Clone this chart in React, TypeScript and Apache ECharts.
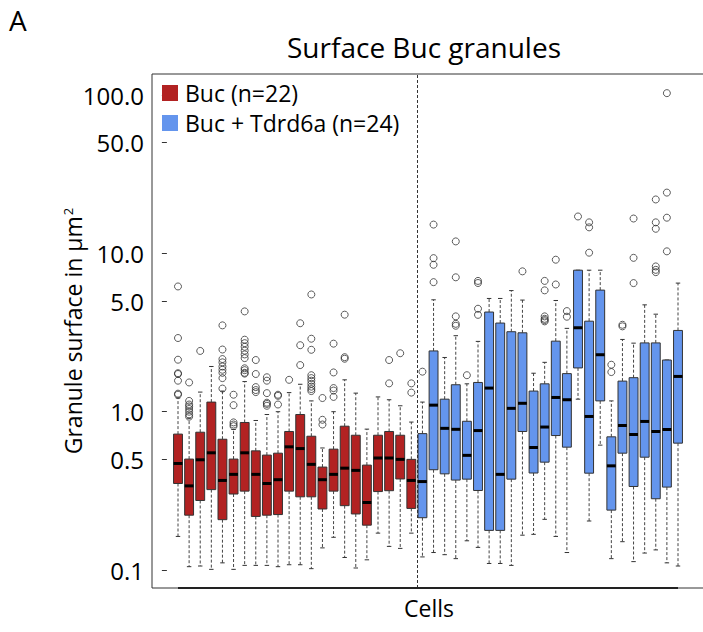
import React, { useEffect, useRef } from 'react';
import * as echarts from 'echarts';

// ---- Data (granule surface in µm²) ----
// Buc (n=22) cells: whisker low, Q1, median, Q3, whisker high
const bucLow = [0.163, 0.105, 0.106, 0.101, 0.111, 0.101, 0.107, 0.107, 0.107, 0.105, 0.108, 0.108, 0.102, 0.138, 0.161, 0.12, 0.103, 0.116, 0.171, 0.141, 0.137, 0.171];
const bucQ1 = [0.352, 0.222, 0.275, 0.322, 0.208, 0.302, 0.315, 0.218, 0.222, 0.224, 0.315, 0.29, 0.29, 0.243, 0.315, 0.255, 0.226, 0.192, 0.313, 0.317, 0.376, 0.245];
const bucMed = [0.471, 0.34, 0.497, 0.55, 0.368, 0.402, 0.55, 0.402, 0.352, 0.372, 0.6, 0.585, 0.465, 0.372, 0.402, 0.44, 0.426, 0.267, 0.51, 0.51, 0.5, 0.368];
const bucQ3 = [0.722, 0.502, 0.742, 1.15, 0.67, 0.502, 0.855, 0.566, 0.532, 0.547, 0.75, 0.96, 0.7, 0.447, 0.58, 0.81, 0.71, 0.46, 0.71, 0.75, 0.71, 0.5];
const bucHigh = [1.22, 0.91, 1.33, 1.93, 1.35, 0.773, 1.55, 0.88, 0.96, 1.0, 1.32, 1.49, 1.17, 0.59, 1.0, 1.59, 1.31, 0.776, 1.24, 1.19, 1.09, 0.86];
const bucOutliers = [
  [6.18, 2.92, 2.13, 1.75, 1.73, 1.57, 1.3, 1.28],
  [1.53, 1.17, 1.11, 1.08, 1.04, 1.0, 0.96, 0.93],
  [2.42],
  [],
  [3.51, 2.47, 2.15, 2.05, 1.93, 1.84, 1.76, 1.63, 1.4],
  [1.28, 1.1, 0.856, 0.83, 0.81],
  [4.3, 2.85, 2.71, 2.57, 2.43, 2.3, 2.18, 1.88, 1.83, 1.76, 1.74],
  [2.12, 1.73, 1.43, 1.37, 1.33],
  [1.65, 1.57, 1.31, 1.14, 1.12, 1.09],
  [1.28, 1.26, 1.11],
  [1.59],
  [3.62, 2.63, 1.97],
  [5.5, 2.89, 2.46, 1.7, 1.63, 1.57, 1.5, 1.44, 1.39, 1.35],
  [1.22, 0.889, 0.83],
  [2.69, 1.77, 1.41, 1.36, 1.24],
  [4.1, 2.21, 2.16],
  [],
  [],
  [],
  [2.12, 1.51],
  [2.34],
  [1.51, 1.32],
];

// Buc + Tdrd6a (n=24) cells
const tdrdLow = [0.121, 0.129, 0.125, 0.118, 0.153, 0.139, 0.11, 0.11, 0.107, 0.166, 0.168, 0.209, 0.163, 0.129, 1.2, 0.204, 0.615, 0.118, 0.151, 0.113, 0.128, 0.134, 0.111, 0.106];
const tdrdQ1 = [0.214, 0.43, 0.405, 0.37, 0.375, 0.318, 0.178, 0.178, 0.375, 0.75, 0.41, 0.48, 0.707, 0.597, 1.89, 0.409, 1.17, 0.239, 0.547, 0.337, 0.516, 0.282, 0.334, 0.633];
const tdrdMed = [0.362, 1.1, 0.785, 0.774, 0.53, 0.76, 1.41, 0.402, 1.05, 1.13, 0.594, 0.8, 1.23, 1.19, 3.39, 0.933, 2.29, 0.455, 0.818, 0.718, 0.868, 0.75, 0.772, 1.67];
const tdrdQ3 = [0.727, 2.42, 1.2, 1.48, 0.87, 1.53, 4.26, 3.63, 3.2, 3.15, 1.35, 1.5, 2.79, 1.74, 7.83, 3.73, 5.86, 0.694, 1.56, 1.64, 2.72, 2.72, 2.12, 3.26];
const tdrdHigh = [1.15, 5.09, 2.2, 3.02, 1.5, 2.78, 5.19, 5.19, 5.82, 5.07, 1.75, 2.05, 5.04, 3.36, 7.83, 7.83, 7.83, 1.17, 2.86, 2.71, 4.73, 4.13, 2.12, 6.49];
const tdrdOutliers = [
  [1.79],
  [15.2, 9.33, 8.47, 6.58],
  [],
  [11.9, 7.06, 4.0, 3.59, 3.49],
  [1.7],
  [6.7, 6.5, 4.47, 4.09],
  [],
  [],
  [],
  [7.7],
  [],
  [6.7, 5.84, 4.0, 3.86, 3.79, 3.72],
  [9.12, 6.36],
  [4.32, 3.98],
  [17.1],
  [15.7, 14.6, 10.1],
  [],
  [1.98, 1.78],
  [3.54, 3.46],
  [16.6, 9.37, 6.49],
  [],
  [21.9, 15.7, 14.3, 8.27, 7.87, 7.61],
  [102.8, 24.2, 16.8, 10.3],
  [],
];

const yTickLabels = [0.1, 0.5, 1, 5, 10, 50, 100];
const yRange = [0.077, 135.8];

const seriesNames = ['Buc (n=22)', 'Buc + Tdrd6a (n=24)'];
const seriesColors = ['#B22222', '#6495ED'];

const FONT = "'Open Sans', 'Noto Sans', 'DejaVu Sans', sans-serif";
const lg = (v: number) => Math.log10(v);

function buildBoxes(low: number[], q1: number[], med: number[], q3: number[], high: number[], start: number) {
  return low.map((_, i) => [start + i, lg(low[i]), lg(q1[i]), lg(med[i]), lg(q3[i]), lg(high[i])]);
}
function buildOutliers(outs: number[][], start: number) {
  const res: number[][] = [];
  outs.forEach((arr, i) => arr.forEach((v) => res.push([start + i, lg(v)])));
  return res;
}

function makeRenderItem(fill: string) {
  return (params: any, api: any) => {
    const x = api.value(0);
    const pLow = api.coord([x, api.value(1)]);
    const pQ1 = api.coord([x, api.value(2)]);
    const pMed = api.coord([x, api.value(3)]);
    const pQ3 = api.coord([x, api.value(4)]);
    const pHigh = api.coord([x, api.value(5)]);
    const bw = api.size([0.8, 0])[0];
    const cx = pMed[0];
    const cap = bw / 4;
    const whisker = { stroke: '#444', lineWidth: 1, lineDash: [3, 2] };
    const capStyle = { stroke: '#333', lineWidth: 1 };
    return {
      type: 'group',
      children: [
        { type: 'line', shape: { x1: cx, y1: pQ3[1], x2: cx, y2: pHigh[1] }, style: whisker },
        { type: 'line', shape: { x1: cx, y1: pQ1[1], x2: cx, y2: pLow[1] }, style: whisker },
        { type: 'line', shape: { x1: cx - cap, y1: pHigh[1], x2: cx + cap, y2: pHigh[1] }, style: capStyle },
        { type: 'line', shape: { x1: cx - cap, y1: pLow[1], x2: cx + cap, y2: pLow[1] }, style: capStyle },
        {
          type: 'rect',
          shape: { x: cx - bw / 2, y: pQ3[1], width: bw, height: pQ1[1] - pQ3[1] },
          style: { fill, stroke: '#333', lineWidth: 1 },
        },
        { type: 'line', shape: { x1: cx - bw / 2, y1: pMed[1], x2: cx + bw / 2, y2: pMed[1] }, style: { stroke: '#000', lineWidth: 3 } },
      ],
    };
  };
}

export default function App() {
  const ref = useRef<HTMLDivElement>(null);
  useEffect(() => {
    if (!ref.current) return;
    const chart = echarts.init(ref.current, undefined, { renderer: 'svg' });
    const yMin = lg(yRange[0]);
    const yMax = lg(yRange[1]);
    const tickVals = yTickLabels.map(lg);
    const nBuc = bucLow.length;
    const nTd = tdrdLow.length;
    const total = nBuc + nTd;
    const outlierData = [...buildOutliers(bucOutliers, 1), ...buildOutliers(tdrdOutliers, nBuc + 1)];

    chart.setOption({
      animation: false,
      backgroundColor: '#fff',
      textStyle: { fontFamily: FONT },
      grid: {
        left: 152, top: 74, width: 554, height: 514,
        show: true, borderColor: '#333', borderWidth: 1, backgroundColor: 'transparent',
        outerBoundsMode: 'none',
      },
      legend: {
        data: seriesNames.map((n, i) => ({ name: n, icon: 'rect', itemStyle: { color: seriesColors[i], borderWidth: 0 } })),
        orient: 'vertical', left: 162, top: 81.5, padding: 0, itemWidth: 16, itemHeight: 16, itemGap: 7,
        textStyle: { fontSize: 23, color: '#000', fontFamily: FONT, padding: [0, 0, 0, 2] },
        selectedMode: false,
      },
      graphic: [
        { type: 'text', x: 9, y: 20, style: { text: 'A', fontSize: 28, fontFamily: FONT, fill: '#000', verticalAlign: 'middle' } },
        { type: 'text', x: 424, y: 47, style: { text: 'Surface Buc granules', fontSize: 28, fontFamily: FONT, fill: '#000', align: 'center', verticalAlign: 'middle' } },
      ],
      xAxis: {
        type: 'value', min: -1.34, max: total + 2.52,
        axisLine: { show: false }, axisTick: { show: false }, axisLabel: { show: false }, splitLine: { show: false },
        name: 'Cells', nameLocation: 'middle', nameGap: 8, nameMoveOverlap: false,
        nameTextStyle: { fontSize: 23, color: '#000', fontFamily: FONT, verticalAlign: 'top' },
      },
      yAxis: {
        type: 'value', min: yMin, max: yMax,
        axisLine: { show: false },
        axisTick: { show: true, length: 5, customValues: tickVals, lineStyle: { color: '#333', width: 1 } },
        axisLabel: {
          customValues: tickVals, margin: 8, fontSize: 24, color: '#000', fontFamily: FONT,
          formatter: (v: number) => Math.pow(10, v).toFixed(1),
        },
        splitLine: { show: false },
        name: '{a|Granule surface in µm}{b|2}', nameLocation: 'middle', nameGap: 68, nameMoveOverlap: false,
        nameTextStyle: {
          color: '#000', fontFamily: FONT,
          rich: {
            a: { fontSize: 23, fontFamily: FONT, color: '#000' },
            b: { fontSize: 13, fontFamily: FONT, color: '#000', verticalAlign: 'top', padding: [0, 0, 10, 1] },
          },
        },
      },
      series: [
        {
          name: seriesNames[0], type: 'custom',
          data: buildBoxes(bucLow, bucQ1, bucMed, bucQ3, bucHigh, 1),
          encode: { x: 0, y: [1, 2, 3, 4, 5] },
          itemStyle: { color: seriesColors[0] },
          renderItem: makeRenderItem(seriesColors[0]),
          silent: true,
        },
        {
          name: seriesNames[1], type: 'custom',
          data: buildBoxes(tdrdLow, tdrdQ1, tdrdMed, tdrdQ3, tdrdHigh, nBuc + 1),
          encode: { x: 0, y: [1, 2, 3, 4, 5] },
          itemStyle: { color: seriesColors[1] },
          renderItem: makeRenderItem(seriesColors[1]),
          silent: true,
        },
        {
          name: 'outliers', type: 'scatter', data: outlierData,
          symbol: 'circle', symbolSize: 7,
          itemStyle: { color: 'rgba(255,255,255,0)', borderColor: '#333', borderWidth: 1 },
          silent: true,
          markLine: {
            silent: true, symbol: ['none', 'none'], label: { show: false },
            data: [
              { xAxis: nBuc + 0.5, lineStyle: { color: '#333', width: 1, type: [3, 2] } },
              [
                { coord: [1, yMin], lineStyle: { color: '#222', width: 2, type: 'solid' } },
                { coord: [total, yMin] },
              ],
            ],
          },
        },
      ],
    });
    return () => chart.dispose();
  }, []);
  return <div ref={ref} style={{ position: 'absolute', left: 0, top: 0, width: 703, height: 632 }} />;
}
